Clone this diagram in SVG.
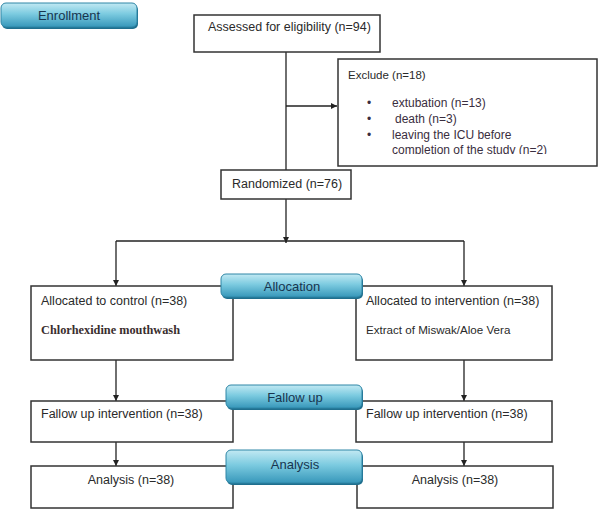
<svg xmlns="http://www.w3.org/2000/svg" width="605" height="509" viewBox="0 0 605 509">
  <defs>
    <linearGradient id="btnGrad" x1="0" y1="0" x2="0" y2="1">
      <stop offset="0" stop-color="#c2e9f3"/>
      <stop offset="0.45" stop-color="#7ccbe0"/>
      <stop offset="1" stop-color="#3797ba"/>
    </linearGradient>
    <marker id="arrow" viewBox="0 0 10 10" refX="10" refY="5" markerWidth="6" markerHeight="6" orient="auto" markerUnits="userSpaceOnUse">
      <path d="M0,0 L10,5 L0,10 z" fill="#222"/>
    </marker>
    <clipPath id="excludeClip">
      <rect x="338" y="59" width="259" height="95"/>
    </clipPath>
  </defs>
  <style>
    .box { fill: #ffffff; stroke: #333333; stroke-width: 1.5; }
    .btn { fill: url(#btnGrad); stroke: #2f86a6; stroke-width: 1; }
    .btnShadow { fill: #1f6f8e; }
    .t { font-family: "Liberation Sans", Arial, sans-serif; font-size: 12.5px; fill: #2a2a2a; }
    .tx { font-family: "Liberation Sans", Arial, sans-serif; font-size: 12px; fill: #3a2e40; }
    .ts { font-family: "Liberation Sans", Arial, sans-serif; font-size: 11.5px; fill: #2a2a2a; }
    .te { font-family: "Liberation Sans", Arial, sans-serif; font-size: 11.6px; fill: #2a2a2a; }
    .tb { font-family: "Liberation Serif", "Times New Roman", serif; font-size: 12px; font-weight: bold; fill: #3a2e2e; }
    .bt { font-family: "Liberation Sans", Arial, sans-serif; font-size: 13px; fill: #17354f; text-anchor: middle; }
    .conn { stroke: #222222; stroke-width: 1.3; fill: none; }
  </style>

  <rect width="605" height="509" fill="#ffffff"/>

  <g id="connectors">
    <line class="conn" x1="286" y1="52" x2="286" y2="170"/>
    <line class="conn" x1="286" y1="106" x2="337" y2="106" marker-end="url(#arrow)"/>
    <line class="conn" x1="286" y1="199" x2="286" y2="243" marker-end="url(#arrow)"/>
    <line class="conn" x1="116" y1="241" x2="464" y2="241"/>
    <line class="conn" x1="116" y1="241" x2="116" y2="286" marker-end="url(#arrow)"/>
    <line class="conn" x1="464" y1="241" x2="464" y2="286" marker-end="url(#arrow)"/>
    <line class="conn" x1="116" y1="360" x2="116" y2="401" marker-end="url(#arrow)"/>
    <line class="conn" x1="464" y1="360" x2="464" y2="401" marker-end="url(#arrow)"/>
    <line class="conn" x1="116" y1="442" x2="116" y2="466" marker-end="url(#arrow)"/>
    <line class="conn" x1="464" y1="442" x2="464" y2="466" marker-end="url(#arrow)"/>
  </g>

  <g id="enrollment">
    <rect class="btnShadow" x="2" y="5" width="136" height="24" rx="5"/>
    <rect class="btn" x="1" y="3" width="136" height="24" rx="5"/>
    <text class="bt" x="69" y="20">Enrollment</text>
  </g>

  <g id="assessed">
    <rect class="box" x="194" y="15" width="186" height="37"/>
    <text class="t" x="208" y="31">Assessed for eligibility (n=94)</text>
  </g>

  <g id="exclude">
    <rect class="box" x="338" y="59" width="259" height="107"/>
    <text class="ts" x="348" y="79">Exclude (n=18)</text>
    <g clip-path="url(#excludeClip)">
      <text class="tx" x="367" y="107">•</text>
      <text class="tx" x="392" y="107">extubation (n=13)</text>
      <text class="tx" x="367" y="123">•</text>
      <text class="tx" x="395" y="123">death (n=3)</text>
      <text class="tx" x="367" y="139">•</text>
      <text class="tx" x="392" y="139">leaving the ICU before</text>
      <text class="tx" x="392" y="154">completion of the study (n=2)</text>
    </g>
  </g>

  <g id="randomized">
    <rect class="box" x="221" y="170" width="130" height="29"/>
    <text class="t" x="232" y="188">Randomized (n=76)</text>
  </g>

  <g id="alloc-control">
    <rect class="box" x="31" y="286" width="202" height="74"/>
    <text class="t" x="41" y="305">Allocated to control (n=38)</text>
    <text class="tb" x="41" y="334" textLength="139" lengthAdjust="spacingAndGlyphs">Chlorhexidine mouthwash</text>
  </g>

  <g id="alloc-intervention">
    <rect class="box" x="356" y="286" width="196" height="74"/>
    <text class="t" x="366" y="305">Allocated to intervention (n=38)</text>
    <text class="te" x="366" y="334">Extract of Miswak/Aloe Vera</text>
  </g>

  <g id="followup-control">
    <rect class="box" x="31" y="401" width="202" height="41"/>
    <text class="t" x="41" y="418">Fallow up intervention (n=38)</text>
  </g>

  <g id="followup-intervention">
    <rect class="box" x="356" y="401" width="196" height="41"/>
    <text class="t" x="366" y="418">Fallow up intervention (n=38)</text>
  </g>

  <g id="analysis-control">
    <rect class="box" x="31" y="466" width="202" height="42"/>
    <text class="t" x="131" y="484" text-anchor="middle">Analysis (n=38)</text>
  </g>

  <g id="analysis-intervention">
    <rect class="box" x="357" y="466" width="196" height="42"/>
    <text class="t" x="455" y="484" text-anchor="middle">Analysis (n=38)</text>
  </g>

  <g id="allocation-label">
    <rect class="btnShadow" x="222" y="276" width="141" height="23" rx="5"/>
    <rect class="btn" x="221" y="274" width="141" height="23" rx="5"/>
    <text class="bt" x="292" y="291">Allocation</text>
  </g>

  <g id="followup-label">
    <rect class="btnShadow" x="227" y="387" width="136" height="23" rx="5"/>
    <rect class="btn" x="226" y="385" width="136" height="23" rx="5"/>
    <text class="bt" x="295" y="402">Fallow up</text>
  </g>

  <g id="analysis-label">
    <rect class="btnShadow" x="227" y="452" width="136" height="33" rx="5"/>
    <rect class="btn" x="226" y="450" width="136" height="33" rx="5"/>
    <text class="bt" x="295" y="469">Analysis</text>
  </g>
</svg>
